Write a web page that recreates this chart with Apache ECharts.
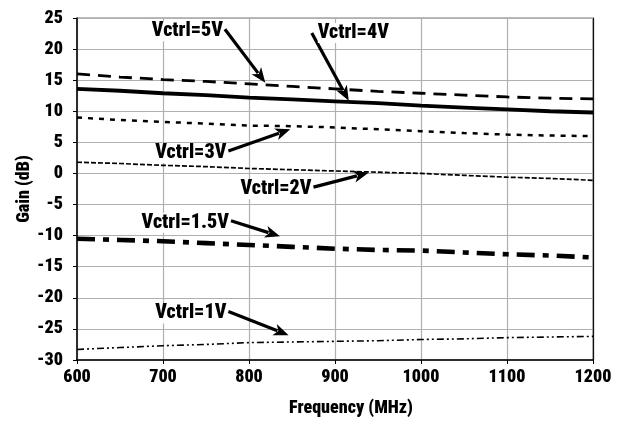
<!DOCTYPE html>
<html><head><meta charset="utf-8">
<script src="https://cdn.jsdelivr.net/npm/echarts@6/dist/echarts.min.js"></script>
<style>html,body{margin:0;padding:0;background:#fff}#c{width:629px;height:422px}</style>
</head><body><div id="c"></div>
<script>
const freq = [600,650,700,750,800,850,900,950,1000,1050,1100,1150,1200];
const v5  = [16.0,15.5,15.1,14.8,14.4,14.0,13.6,13.2,12.9,12.6,12.3,12.1,12.0];
const v4  = [13.6,13.3,12.9,12.6,12.2,11.9,11.6,11.3,10.9,10.6,10.3,10.0,9.8];
const v3  = [9.0,8.6,8.3,8.0,7.7,7.6,7.4,7.1,6.8,6.5,6.25,6.1,6.0];
const v2  = [1.8,1.6,1.3,1.1,0.8,0.6,0.4,0.2,0.0,-0.3,-0.6,-0.8,-1.1];
const v15 = [-10.5,-10.7,-10.9,-11.2,-11.5,-11.8,-12.1,-12.3,-12.4,-12.7,-13.0,-13.2,-13.5];
const v1  = [-28.3,-28.0,-27.7,-27.5,-27.2,-27.1,-27.0,-26.9,-26.7,-26.6,-26.4,-26.3,-26.2];
const yTicks = [-30,-25,-20,-15,-10,-5,0,5,10,15,20,25];
const xTicks = [600,700,800,900,1000,1100,1200];
// annotations: label, arrow start [MHz,dB], arrow end [MHz,dB]
const annoText = ['Vctrl=5V','Vctrl=4V','Vctrl=3V','Vctrl=2V','Vctrl=1.5V','Vctrl=1V'];
const annoFrom = [[772,23.2],[873,22.6],[776,3.6],[875,-2.2],[779,-7.6],[776,-22.2]];
const annoTo   = [[819,14.6],[916,11.7],[848,7.1],[939,0.1],[836,-10.1],[846,-26.0]];

const FONT = '"Roboto Condensed","Open Sans Condensed",sans-serif';
const FW = '900';
const chart = echarts.init(document.getElementById('c'));
function pts(a){return freq.map((f,i)=>[f,a[i]]);}
function ser(name,a,w,type){
  return {name,type:'line',data:pts(a),symbol:'none',smooth:false,
    lineStyle:{color:'#000',width:w,type:type},z:5};
}
chart.setOption({
  animation:false,
  grid:{left:77,right:36,top:18,bottom:61,show:true,borderColor:'#777',borderWidth:1},
  xAxis:{type:'value',min:600,max:1200,interval:100,
    name:'Frequency (MHz)',nameLocation:'middle',nameGap:39,nameMoveOverlap:false,
    nameTextStyle:{fontFamily:FONT,fontWeight:FW,fontSize:18,color:'#000',padding:[0,0,0,32]},
    axisLine:{onZero:false,lineStyle:{color:'#000',width:1.5}},
    axisTick:{show:true,length:4,inside:false,lineStyle:{color:'#000'}},
    axisLabel:{fontFamily:FONT,fontWeight:FW,fontSize:18,color:'#000',margin:8,
      formatter:v=>String(v)},
    splitLine:{lineStyle:{color:'#b0b0b0',width:1.2}}},
  yAxis:[{type:'value',min:-30,max:25,interval:5,
    name:'Gain (dB)',nameLocation:'middle',nameGap:44,nameRotate:90,nameMoveOverlap:false,
    nameTextStyle:{fontFamily:FONT,fontWeight:FW,fontSize:18,color:'#000'},
    axisLine:{show:true,onZero:false,lineStyle:{color:'#000',width:1.5}},
    axisTick:{show:true,length:4,lineStyle:{color:'#000'}},
    axisLabel:{fontFamily:FONT,fontWeight:FW,fontSize:18,color:'#000',margin:14},
    splitLine:{lineStyle:{color:'#b0b0b0',width:1.2}}},
   {type:'value',min:-30,max:25,interval:5,position:'right',
    axisLine:{show:true,onZero:false,lineStyle:{color:'#111',width:1.2}},
    axisTick:{show:false},axisLabel:{show:false},splitLine:{show:false}}],
  series:[
    ser('5V',v5,2.8,[13,8]),
    ser('4V',v4,3.8,'solid'),
    ser('3V',v3,2.5,[5,6]),
    ser('2V',v2,1.7,[5,2]),
    ser('1.5V',v15,4.6,[18,8,6,8]),
    ser('1V',v1,1.6,[7,3,2,3,2,3])
  ]
});
const g=[];
annoText.forEach((t,i)=>{
  const p1=chart.convertToPixel({gridIndex:0},annoFrom[i]);
  const p2=chart.convertToPixel({gridIndex:0},annoTo[i]);
  const dx=p2[0]-p1[0],dy=p2[1]-p1[1],L=Math.hypot(dx,dy),ux=dx/L,uy=dy/L;
  const hl=15,hw=6;
  const bx=p2[0]-ux*hl,by=p2[1]-uy*hl;
  g.push({type:'line',shape:{x1:p1[0],y1:p1[1],x2:bx+ux*3,y2:by+uy*3},style:{stroke:'#000',lineWidth:3.2},z:10});
  g.push({type:'polygon',shape:{points:[[p2[0],p2[1]],[bx-uy*hw,by+ux*hw],[bx+ux*4,by+uy*4],[bx+uy*hw,by-ux*hw]]},style:{fill:'#000'},z:10});
  const left = (i===1);
  g.push({type:'text',x:left?p1[0]+6:p1[0]-2,y:p1[1]+(left?0:2),z:11,
    style:{text:t,fontFamily:FONT,fontWeight:FW,fontSize:20,fill:'#000',
      align:left?'left':'right',verticalAlign:'middle',backgroundColor:'#fff'}});
});
chart.setOption({graphic:g});
</script></body></html>
